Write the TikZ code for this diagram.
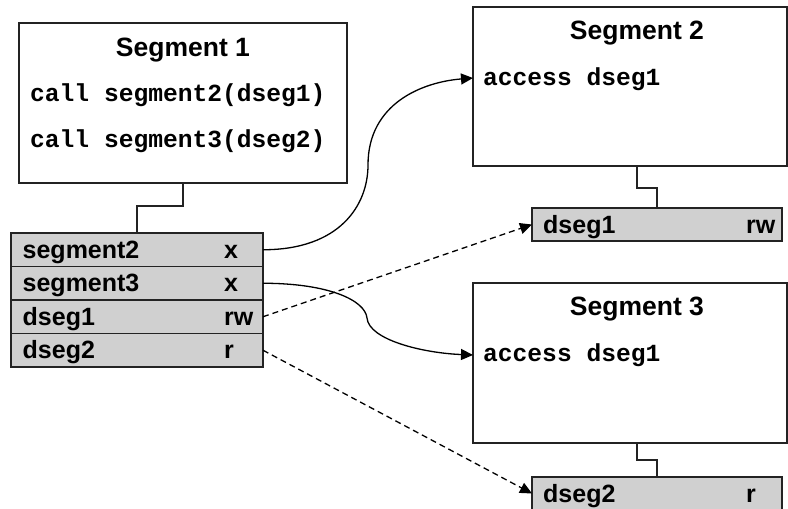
\documentclass[tikz,border=0pt]{standalone}
\usepackage{fontspec}
\setmainfont{Liberation Sans}
\setmonofont{Liberation Mono}
\usetikzlibrary{arrows.meta}
\definecolor{rowgray}{RGB}{208,208,208}
\definecolor{edgecol}{RGB}{35,35,35}
\begin{document}
\begin{tikzpicture}[x=1pt,y=-1pt,
  box/.style={draw=edgecol, line width=1.2pt, rectangle, inner sep=0pt, outer sep=0pt, anchor=north west},
  rowbox/.style={box, fill=rowgray, minimum width=252pt, minimum height=33.5pt},
  smallbox/.style={box, fill=rowgray, minimum width=250pt, minimum height=33pt},
  ttl/.style={font=\fontsize{26.5}{30}\selectfont\bfseries, inner sep=0pt, anchor=base},
  code/.style={font=\fontsize{24.6}{28}\selectfont\ttfamily\bfseries, inner sep=0pt, anchor=base west},
  lbl/.style={font=\fontsize{25}{28}\selectfont\bfseries, inner sep=0pt, anchor=base west},
  link/.style={draw=edgecol, line width=1.2pt},
  callarrow/.style={draw=black, line width=1.3pt, -{Triangle[length=12pt,width=11pt]}},
  dataarrow/.style={draw=black, line width=1.3pt, dash pattern=on 6pt off 4pt, -{Triangle[length=12pt,width=11pt]}}
]
\useasboundingbox (0,0) rectangle (788,509);

% Segment boxes
\node[box, minimum width=328pt, minimum height=160pt] (s1) at (19,23) {};
\node[box, minimum width=314pt, minimum height=159pt] (s2) at (473,7) {};
\node[box, minimum width=314pt, minimum height=160pt] (s3) at (473,283) {};

% table rows
\node[rowbox] (r1) at (11,233) {};
\node[rowbox] (r2) at (11,266.5) {};
\node[rowbox] (r3) at (11,300) {};
\node[rowbox] (r4) at (11,333.5) {};

% small data boxes
\node[smallbox] (d1) at (532,208) {};
\node[smallbox] (d2) at (532,477) {};

% texts
\node[ttl] (s1t) at ([yshift=-33pt]s1.north) {Segment 1};
\node[code] (s1c1) at ([xshift=11pt,yshift=-78pt]s1.north west) {call segment2(dseg1)};
\node[code] (s1c2) at ([xshift=11pt,yshift=-124pt]s1.north west) {call segment3(dseg2)};

\node[ttl] (s2t) at ([xshift=164pt,yshift=-32pt]s2.north west) {Segment 2};
\node[code] (s2c) at ([xshift=10pt,yshift=-78pt]s2.north west) {access dseg1};

\node[ttl] (s3t) at ([xshift=164pt,yshift=-32pt]s3.north west) {Segment 3};
\node[code] (s3c) at ([xshift=10pt,yshift=-78pt]s3.north west) {access dseg1};

\node[lbl] (r1a) at ([xshift=11.5pt,yshift=-25pt]r1.north west) {segment2};
\node[lbl] (r1b) at ([xshift=213pt,yshift=-25pt]r1.north west) {x};
\node[lbl] (r2a) at ([xshift=11.5pt,yshift=-25pt]r2.north west) {segment3};
\node[lbl] (r2b) at ([xshift=213pt,yshift=-25pt]r2.north west) {x};
\node[lbl] (r3a) at ([xshift=11.5pt,yshift=-25pt]r3.north west) {dseg1};
\node[lbl] (r3b) at ([xshift=213pt,yshift=-25pt]r3.north west) {rw};
\node[lbl] (r4a) at ([xshift=11.5pt,yshift=-25pt]r4.north west) {dseg2};
\node[lbl] (r4b) at ([xshift=213pt,yshift=-25pt]r4.north west) {r};

\node[lbl] (d1a) at ([xshift=11pt,yshift=-25.5pt]d1.north west) {dseg1};
\node[lbl] (d1b) at ([xshift=214pt,yshift=-25.5pt]d1.north west) {rw};
\node[lbl] (d2a) at ([xshift=11pt,yshift=-25.5pt]d2.north west) {dseg2};
\node[lbl] (d2b) at ([xshift=214pt,yshift=-25.5pt]d2.north west) {r};

% stepped links
\draw[link] (s1.south) |- ([xshift=126pt,yshift=27pt]r1.north west) -- ([xshift=126pt]r1.north west);
\draw[link] ([xshift=164pt]s2.south west) |- ([yshift=20pt]d1.north) -- (d1.north);
\draw[link] ([xshift=164pt]s3.south west) |- ([yshift=17pt]d2.north) -- (d2.north);

% call arrows
\coordinate (m1) at (368,165);
\coordinate (t2) at ([yshift=-71pt]s2.north west);
\draw[callarrow] (r1.east) .. controls +(77,0) and +(0,40) .. (m1) .. controls +(0,-62) and +(-50,4) .. (t2);

\coordinate (m2) at (367,318);
\coordinate (t3) at ([yshift=-72pt]s3.north west);
\draw[callarrow] (r2.east) .. controls +(65,0) and +(-2,-18) .. (m2) .. controls +(2,22) and +(-50,-2) .. (t3);

% data arrows
\draw[dataarrow] (r3.east) -- (d1.west);
\draw[dataarrow] (r4.east) -- (d2.west);
\end{tikzpicture}
\end{document}
